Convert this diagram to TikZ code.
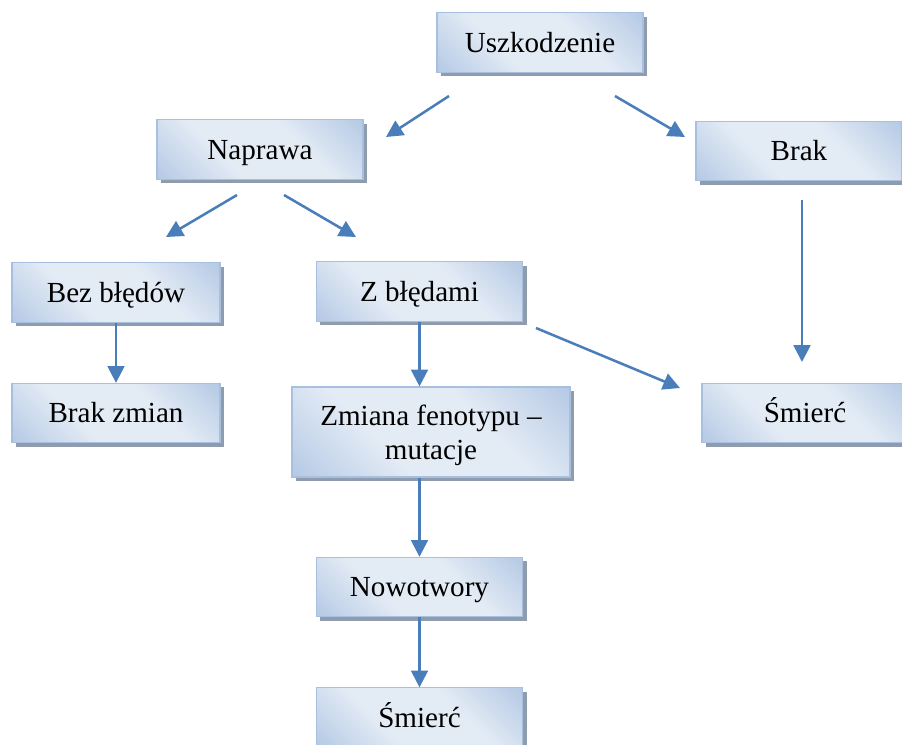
\documentclass[tikz,border=0pt]{standalone}
\usepackage{fontspec}
\setmainfont{Liberation Serif}
\usetikzlibrary{arrows.meta,shadows}

\definecolor{boxdark}{HTML}{98B4DA}
\definecolor{boxlight}{HTML}{E3EBF5}
\definecolor{boxline}{HTML}{A8C0E0}
\definecolor{boxshade}{HTML}{8E9CAE}
\definecolor{arrblue}{HTML}{4A7EBB}

\pgfdeclarehorizontalshading{stageshade}{100bp}{%
  color(0bp)=(boxdark); color(38bp)=(boxlight);
  color(62bp)=(boxlight); color(100bp)=(boxdark)}

\begin{document}
\begin{tikzpicture}[
  x=0.025cm, y=-0.025cm,
  stage/.style = {draw=boxline, line width=0.8pt,
                  shading=stageshade, shading angle=45,
                  minimum width=5.15cm, minimum height=1.48cm,
                  align=center, inner sep=2pt,
                  text height=18.5pt, text depth=4.5pt,
                  font=\fontsize{20.7}{24}\selectfont,
                  drop shadow={shadow xshift=0.1cm, shadow yshift=-0.1cm,
                               fill=boxshade, opacity=1}},
  arr/.style   = {-{Triangle[length=0.42cm,width=0.42cm]},
                  line width=1.8pt, arrblue},
]
\useasboundingbox (0,0) rectangle (902,744);

\node[stage] (usz)   at (540,42.5)  {Uszkodzenie};
\node[stage] (napr)  at (260,149.5) {Naprawa};
\node[stage] (brak)  at (799,151)   {Brak};
\node[stage, minimum width=5.2cm]  (bez)   at (116,292.5) {Bez błędów};
\node[stage, minimum width=5.2cm]  (zmian) at (116,413) {Brak zmian};
\node[stage] (zb)    at (419.5,291.5) {Z błędami};
\node[stage, minimum width=6.95cm, minimum height=2.25cm,
      text height=, text depth=0pt]
  (zf) at (431,432) {Zmiana fenotypu –\\mutacje};
\node[stage] (smr)   at (805,413)   {Śmierć};
\node[stage] (now)   at (419.5,587) {Nowotwory};
\node[stage] (smb)   at (419.5,717.5) {Śmierć};

% free ends of the loose arrows
\coordinate (u1) at (449,96);  \coordinate (u1e) at (386,137);
\coordinate (u2) at (615,96);  \coordinate (u2e) at (685,137);
\coordinate (n1) at (237,195); \coordinate (n1e) at (166,237);
\coordinate (n2) at (284,195); \coordinate (n2e) at (356,237);
\coordinate (z1) at (536,328); \coordinate (z1e) at (680,388);
\coordinate (b1) at (802,200); \coordinate (b1e) at (802,362);

% Uszkodzenie -> Naprawa / Brak
\draw[arr] (u1) -- (u1e);
\draw[arr] (u2) -- (u2e);

% Naprawa -> Bez bledow / Z bledami
\draw[arr] (n1) -- (n1e);
\draw[arr] (n2) -- (n2e);

% down the columns
\draw[arr] (bez) -- (zmian);
\draw[arr] (zb.south) -- (zb.south |- zf.north);
\draw[arr] (zf.south -| now.north) -- (now.north);
\draw[arr] (now) -- (smb);

% towards the right-hand Smierc
\draw[arr] (z1) -- (z1e);
\draw[arr] (b1) -- (b1e);

\end{tikzpicture}
\end{document}
